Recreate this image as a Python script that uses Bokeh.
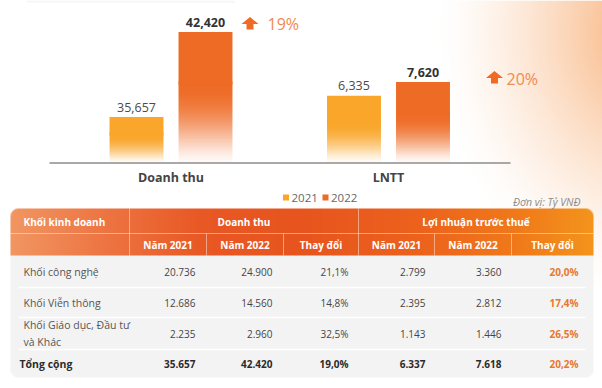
import numpy as np
from bokeh.plotting import figure
from bokeh.models import Range1d, ColumnDataSource
from bokeh.core.properties import value
from bokeh.embed import file_html
from bokeh.resources import INLINE

# ---------------- data ----------------
metrics = ["Doanh thu", "LNTT"]
years = ["2021", "2022"]
values_2021 = [35657, 6335]
values_2022 = [42420, 7620]
growth = ["19%", "20%"]
unit_note = "Đơn vị: Tỷ VNĐ"

header_groups = ["Khối kinh doanh", "Doanh thu", "Lợi nhuận trước thuế"]
header_sub = ["Năm 2021", "Năm 2022", "Thay đổi"]
segments = ["Khối công nghệ", "Khối Viễn thông", "Khối Giáo dục, Đầu tư\nvà Khác", "Tổng cộng"]
dt_2021 = [20736, 12686, 2235, 35657]
dt_2022 = [24900, 14560, 2960, 42420]
dt_change = [21.1, 14.8, 32.5, 19.0]
ln_2021 = [2799, 2395, 1143, 6337]
ln_2022 = [3360, 2812, 1446, 7618]
ln_change = [20.0, 17.4, 26.5, 20.2]

# ---------------- style / layout ----------------
FONT = value("Open Sans")
C2021 = "#f9a62b"
C2022 = "#ee6b25"
RGB2021 = (249, 166, 43)
RGB2022 = (238, 107, 37)
W, H = 602, 388


def ry(v):
    """reference-pixel y (from top) -> data y of the main range"""
    return H - np.asarray(v, dtype=float)


def fmt_vn(n):
    return f"{n:,}".replace(",", ".")


def fmt_pct(v):
    return f"{v:.1f}".replace(".", ",") + "%"


def to_rgba_u32(rgb, alpha):
    h, w = alpha.shape
    out = np.empty((h, w), dtype=np.uint32)
    v = out.view(dtype=np.uint8).reshape((h, w, 4))
    v[..., :3] = np.clip(np.round(rgb), 0, 255).astype(np.uint8)
    v[..., 3] = np.clip(np.round(alpha * 255), 0, 255).astype(np.uint8)
    return out


p = figure(width=W, height=H, x_range=Range1d(0, W), y_range=Range1d(0, H),
           output_backend="svg", toolbar_location=None, min_border=0,
           x_axis_location=None, y_axis_location=None, outline_line_color=None,
           background_fill_color="white", border_fill_color="white")
p.grid.visible = False

# ---------------- background image (page glow + table panel) ----------------
yy, xx = np.mgrid[0:H, 0:W].astype(float)
X = xx + 0.5
Y = yy + 0.5
rgb = np.full((H, W, 3), 255.0)
t = np.sqrt(((X - 645) / 210) ** 2 + ((Y - 30) / 270) ** 2)
a = np.clip(1 - t, 0, 1) ** 1.45 * 0.85
glow = np.array([246.0, 160.0, 92.0])
rgb = rgb * (1 - a[..., None]) + glow * a[..., None]
# faint shadow of a card cut off at the top-left
sh = np.where((X > 26) & (X < 234), np.clip(1 - Y / 3.0, 0, 1) * 0.10, 0.0)
rgb = rgb * (1 - sh[..., None]) + np.array([120.0, 120.0, 120.0]) * sh[..., None]

T_L, T_R, T_T, T_B, T_RAD = 10, 593, 208, 377, 8
HDR1, HDR2 = 233, 255
col_edges = [10, 129, 206, 283, 358, 434, 511, 593]
row_edges = [255, 287, 317, 349, 377]


def rrect_cov(X, Y, l, r, t, b, rad):
    cx = np.clip(X, l + rad, r - rad)
    cy = np.clip(Y, t + rad, b - rad)
    d = np.hypot(X - cx, Y - cy)
    return np.clip(rad - d + 0.5, 0, 1)


cov = rrect_cov(X, Y, T_L, T_R, T_T, T_B, T_RAD)
stops_x = [10, 100, 200, 300, 420, 520, 593]
stops_c = [(241, 150, 98), (237, 118, 68), (232, 88, 36), (231, 84, 30),
           (236, 98, 28), (240, 122, 26), (243, 148, 28)]
hdr = np.stack([np.interp(X[0], stops_x, [c[k] for c in stops_c]) for k in range(3)], -1)
body = np.array([243.0, 243.0, 243.0])
inside = np.where((Y < HDR2)[..., None], hdr[None, :, :], body)
rgb = rgb * (1 - cov[..., None]) + inside * cov[..., None]

bg = to_rgba_u32(rgb, np.ones((H, W)))
p.image_rgba(image=[np.ascontiguousarray(bg[::-1])], x=0, y=0, dw=W, dh=H)

# ---------------- bar chart ----------------
BASE = 162.5          # axis line (reference px)
G0, GSTEP = 170.5, 217.5
DT_FLOOR = 32000
DT_PX = 85 / 6763     # px per unit
LN_PX = 81 / 7620
DODGE, BW = 0.1586, 0.248
FADE = 0.6            # share of bar height that fades out towards the axis

p.extra_x_ranges = {"grp": Range1d((0 - G0) / GSTEP, (W - G0) / GSTEP)}
p.extra_y_ranges = {
    "dt": Range1d(DT_FLOOR - (H - BASE) / DT_PX, DT_FLOOR + BASE / DT_PX),
    "ln": Range1d(0 - (H - BASE) / LN_PX, 0 + BASE / LN_PX),
}
floors = [DT_FLOOR, 0]
pxs = [DT_PX, LN_PX]
rnames = ["dt", "ln"]

NG = 120
for gi in range(len(metrics)):
    b = floors[gi]
    xs, bots, tops, cols = [], [], [], []
    for yi, (vals, col, crgb) in enumerate([(values_2021, C2021, RGB2021),
                                            (values_2022, C2022, RGB2022)]):
        top = vals[gi]
        h = top - b
        fz = b + FADE * h
        ov = 3 / pxs[gi]                       # 3px overlap into the solid part
        xpos = gi + (-DODGE if yi == 0 else DODGE)
        xs.append(xpos); bots.append(fz); tops.append(top); cols.append(col)
        z = b + (np.arange(NG) + 0.5) / NG * (fz + ov - b)
        frac = np.clip((z - b) / (fz - b), 0, 1)
        alpha = 0.03 + 0.97 * (1 - (1 - frac) ** 2) ** 1.5
        alpha_img = np.repeat(alpha[:, None], 2, axis=1)
        rgb_img = np.broadcast_to(np.array(crgb, dtype=float), (NG, 2, 3))
        p.image_rgba(image=[to_rgba_u32(rgb_img, alpha_img)], x=xpos - BW / 2, y=b, dw=BW,
                     dh=fz + ov - b, x_range_name="grp", y_range_name=rnames[gi])
    src = ColumnDataSource(dict(x=xs, bottom=bots, top=tops, color=cols))
    p.vbar(x="x", bottom="bottom", top="top", width=BW, fill_color="color",
           line_color=None, source=src, x_range_name="grp", y_range_name=rnames[gi])

    p.text(x=[gi - DODGE], y=[values_2021[gi]], text=[f"{values_2021[gi]:,}"],
           x_range_name="grp", y_range_name=rnames[gi], text_font=FONT, text_font_size="12.5px",
           text_color="#4a4a4a", text_align="center", text_baseline="middle", y_offset=-10)
    p.text(x=[gi + DODGE], y=[values_2022[gi]], text=[f"{values_2022[gi]:,}"],
           x_range_name="grp", y_range_name=rnames[gi], text_font=FONT, text_font_size="12.5px",
           text_font_style="bold", text_color="#333333", text_align="center",
           text_baseline="middle", y_offset=-10)

# axis line
p.segment(x0=[49], y0=ry([BASE]), x1=[510], y1=ry([BASE]), line_color="#8c8c8c", line_width=1.5)
# category labels
p.text(x=list(range(len(metrics))), y=ry([177, 177]), text=metrics, x_range_name="grp",
       text_font=FONT, text_font_size="12.5px", text_font_style="bold", text_color="#444444",
       text_align="center", text_baseline="middle")

# growth arrows
arrow_c = [(249.5, 23), (494, 77)]
pct_pos = [(267, 23), (506, 78)]
axs, ays = [], []
for cx, cy in arrow_c:
    pts = [(cx, cy - 6.5), (cx + 8.5, cy + 0.5), (cx + 3.5, cy + 0.5), (cx + 3.5, cy + 6),
           (cx - 3.5, cy + 6), (cx - 3.5, cy + 0.5), (cx - 8.5, cy + 0.5)]
    axs.append([q[0] for q in pts])
    ays.append(list(ry([q[1] for q in pts])))
p.patches(xs=axs, ys=ays, fill_color="#ef6a22", line_color=None)
p.text(x=[q[0] for q in pct_pos], y=ry([q[1] for q in pct_pos]), text=growth, text_font=FONT,
       text_font_size="16px", text_color="#f08a50", text_align="left", text_baseline="middle")

# legend
p.scatter(x=[285.5, 325], y=ry([197, 197]), marker="square", size=6,
          fill_color=[C2021, C2022], line_color=None)
p.text(x=[291, 330.5], y=ry([197, 197]), text=years, text_font=FONT, text_font_size="11.5px",
       text_color="#666666", text_align="left", text_baseline="middle")

# unit note
p.text(x=[580], y=ry([201]), text=[unit_note], text_font=FONT, text_font_size="10.5px",
       text_font_style="italic", text_color="#8a8a8a", text_align="right", text_baseline="middle")

# ---------------- table ----------------
sx0 = [T_L, col_edges[1], col_edges[4], col_edges[2], col_edges[3], col_edges[5], col_edges[6]]
sy0 = [HDR1, T_T, T_T, HDR1, HDR1, HDR1, HDR1]
sx1 = [T_R, col_edges[1], col_edges[4], col_edges[2], col_edges[3], col_edges[5], col_edges[6]]
sy1 = [HDR1, HDR2, HDR2, HDR2, HDR2, HDR2, HDR2]
p.segment(x0=sx0, y0=ry(sy0), x1=sx1, y1=ry(sy1), line_color="white", line_alpha=0.45, line_width=1)
p.segment(x0=[18] * 3, y0=ry(row_edges[1:4]), x1=[585] * 3, y1=ry(row_edges[1:4]),
          line_color="white", line_width=1.5)

HF = "10px"
p.text(x=[23], y=ry([221]), text=[header_groups[0]], text_font=FONT, text_font_size=HF,
       text_font_style="bold", text_color="white", text_align="left", text_baseline="middle")
p.text(x=[(col_edges[1] + col_edges[4]) / 2, (col_edges[4] + col_edges[7]) / 2], y=ry([221, 221]),
       text=header_groups[1:], text_font=FONT, text_font_size=HF, text_font_style="bold",
       text_color="white", text_align="center", text_baseline="middle")
sub_x = [(col_edges[i] + col_edges[i + 1]) / 2 for i in range(1, 7)]
p.text(x=sub_x, y=ry([244] * 6), text=header_sub * 2, text_font=FONT, text_font_size=HF,
       text_font_style="bold", text_color="white", text_align="center", text_baseline="middle")

row_y = [(row_edges[i] + row_edges[i + 1]) / 2 for i in range(4)]
num_right = [195, 272, 348, 425, 501, 578]
nrows = len(segments)
lab = dict(x=[23] * (nrows - 1) + [19], y=list(ry(row_y)), text=segments,
           color=["#555555"] * (nrows - 1) + ["#2b2b2b"],
           style=["normal"] * (nrows - 1) + ["bold"])
p.text(x="x", y="y", text="text", source=ColumnDataSource(lab), text_font=FONT,
       text_font_size="10.5px", text_font_style="style", text_color="color",
       text_align="left", text_baseline="middle", text_line_height=1.2)

cells = dict(x=[], y=[], text=[], color=[], style=[])
columns = [
    [fmt_vn(v) for v in dt_2021], [fmt_vn(v) for v in dt_2022], [fmt_pct(v) for v in dt_change],
    [fmt_vn(v) for v in ln_2021], [fmt_vn(v) for v in ln_2022], [fmt_pct(v) for v in ln_change],
]
for ci, colvals in enumerate(columns):
    for ri, s in enumerate(colvals):
        total = ri == nrows - 1
        cells["x"].append(num_right[ci])
        cells["y"].append(float(ry(row_y[ri])))
        cells["text"].append(s)
        if ci == 5:
            cells["color"].append("#e8782e")
            cells["style"].append("bold")
        else:
            cells["color"].append("#2b2b2b" if total else "#454545")
            cells["style"].append("bold" if total else "normal")
p.text(x="x", y="y", text="text", source=ColumnDataSource(cells), text_font=FONT,
       text_font_size="10px", text_font_style="style", text_color="color",
       text_align="right", text_baseline="middle")

open("out.html", "w").write(file_html(p, INLINE))
